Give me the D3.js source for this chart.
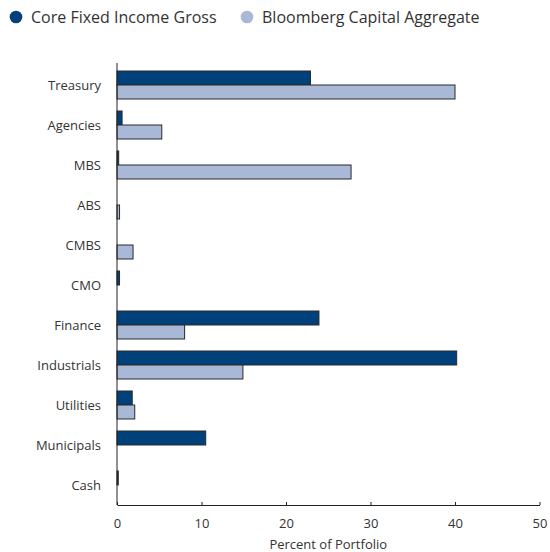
<!DOCTYPE html>
<html>
<head>
<meta charset="utf-8">
<script src="https://cdn.jsdelivr.net/npm/d3@7"></script>
<style>
  body { margin: 0; background: #fff; }
  svg text { font-family: "Open Sans", "Lato", sans-serif; fill: #333; }
</style>
</head>
<body>
<svg id="chart" width="550" height="552"></svg>
<script>
// data
const categories = ['Treasury', 'Agencies', 'MBS', 'ABS', 'CMBS', 'CMO', 'Finance', 'Industrials', 'Utilities', 'Municipals', 'Cash'];
const coreFixed = [22.9, 0.6, 0.2, 0, 0, 0.3, 23.9, 40.2, 1.8, 10.5, 0.15];
const bloomberg = [40.0, 5.3, 27.7, 0.3, 1.9, 0, 8.0, 14.9, 2.1, 0, 0];
const seriesNames = ['Core Fixed Income Gross', 'Bloomberg Capital Aggregate'];
const xTicks = [0, 10, 20, 30, 40, 50];

const colors = ['#00407b', '#a8b8d6'];

let svg = d3.select('#chart');

let x = d3.scaleLinear().domain([0, 50]).range([117, 539.5]);
let y = d3.scaleBand().domain(categories).range([65, 505]);
let sub = d3.scaleBand().domain([0, 1]).range([y.bandwidth() / 2 - 14, y.bandwidth() / 2 + 14]);

// legend
let legend = svg.append('g');
seriesNames.forEach((name, i) => {
    let lx = i == 0 ? 16 : 247;
    legend.append('circle').attr('cx', lx).attr('cy', 17).attr('r', 6.3).attr('fill', colors[i]);
    legend.append('text').attr('x', lx + 15).attr('y', 22.5)
        .style('font-size', '16px').text(name);
});

// bars
let rows = svg.append('g').selectAll('g').data(categories).enter().append('g')
    .attr('transform', d => 'translate(0,' + y(d) + ')');

[coreFixed, bloomberg].forEach((vals, s) => {
    rows.filter((d, i) => vals[i] > 0)
        .append('rect')
        .attr('x', x(0))
        .attr('y', sub(s))
        .attr('height', sub.bandwidth())
        .attr('width', d => x(vals[categories.indexOf(d)]) - x(0))
        .attr('fill', colors[s])
        .attr('stroke', '#2a2a2a')
        .attr('stroke-width', 1);
});

// category labels
rows.append('text')
    .attr('x', 101)
    .attr('y', y.bandwidth() / 2)
    .attr('dy', '0.35em')
    .attr('text-anchor', 'end')
    .style('font-size', '13px')
    .text(d => d);

// y axis line
svg.append('line').attr('x1', x(0)).attr('x2', x(0)).attr('y1', 63).attr('y2', 505)
    .attr('stroke', '#222').attr('stroke-width', 1);

// x axis
let xAxis = d3.axisBottom(x).tickValues(xTicks).tickSize(-3).tickPadding(14).tickSizeOuter(0);
let xg = svg.append('g').attr('transform', 'translate(0,505)').call(xAxis);
xg.select('.domain').attr('stroke', '#222');
xg.selectAll('.tick line').attr('stroke', '#222');
xg.selectAll('.tick text').style('font-size', '13px').style('font-family', '"Open Sans", sans-serif').attr('fill', '#333');

svg.append('text')
    .attr('x', x(25))
    .attr('y', 549)
    .attr('text-anchor', 'middle')
    .style('font-size', '13px')
    .text('Percent of Portfolio');
</script>
</body>
</html>
